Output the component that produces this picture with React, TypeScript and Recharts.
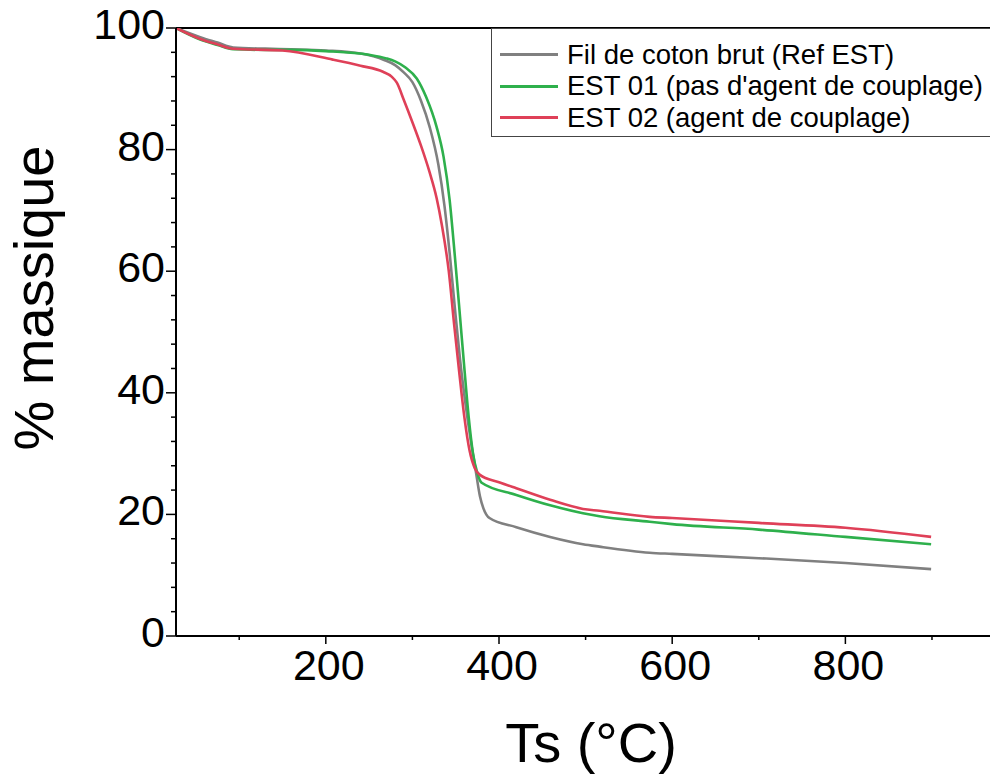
import React from "react";
import { LineChart, Line, XAxis, YAxis, ReferenceLine } from "recharts";

// ── Data (T in °C, mass in %) ─────────────────────────────────────────────────
const refTemp = [27, 55, 75, 93, 130, 160, 200, 240, 268, 280, 290, 300, 310, 320, 330, 337, 343, 349, 355, 361, 367, 373, 378, 382, 389, 420, 459, 497, 516, 574, 600, 700, 800, 899];
const refMass = [100, 98.5, 97.6, 96.8, 96.6, 96.5, 96.3, 95.8, 94.7, 93.9, 92.7, 91.1, 88.0, 83.7, 77.5, 70.8, 63, 54, 45.5, 38.5, 32.5, 27.3, 23, 21, 19.4, 17.9, 16.3, 15.1, 14.7, 13.7, 13.5, 12.8, 12.0, 11.0];

const est01Temp = [27, 55, 75, 93, 130, 160, 200, 250, 270, 280, 292, 305, 316, 328, 336, 343, 349, 355, 360, 365, 370, 375, 380, 420, 459, 497, 516, 574, 600, 700, 800, 899];
const est01Mass = [100, 98.1, 97.2, 96.5, 96.4, 96.4, 96.2, 95.6, 95.0, 94.5, 93.5, 91.7, 88.6, 83.7, 78.8, 71.7, 62.5, 52.5, 44, 36, 30, 26.8, 25.2, 23.2, 21.5, 20.2, 19.7, 18.8, 18.4, 17.5, 16.3, 15.1];

const est02Temp = [27, 55, 75, 93, 150, 208, 240, 266, 276, 282, 290, 300, 310, 320, 328, 334, 342, 348, 354, 360, 366, 372, 378, 400, 420, 459, 497, 516, 574, 600, 700, 800, 899];
const est02Mass = [100, 98.2, 97.3, 96.6, 96.3, 94.8, 93.8, 92.8, 92.0, 91.0, 88.2, 84.5, 80.6, 76.2, 72.0, 67.6, 60, 51.5, 43.5, 36, 30.5, 27.6, 26.5, 25.3, 24.3, 22.4, 20.9, 20.6, 19.6, 19.4, 18.6, 17.8, 16.3];

const xTicks = [100, 200, 300, 400, 500, 600, 700, 800, 900];
const yTicks = Array.from({ length: 26 }, (_, i) => i * 4);

const SERIES = [
  { name: "Fil de coton brut (Ref EST)", color: "#808080", temp: refTemp, mass: refMass },
  { name: "EST 01 (pas d'agent de couplage)", color: "#2eb04c", temp: est01Temp, mass: est01Mass },
  { name: "EST 02 (agent de couplage)", color: "#df4058", temp: est02Temp, mass: est02Mass },
];

const FONT = "'Liberation Sans', Arial, sans-serif";

// ── Custom ticks: long tick + label on majors, short tick on minors ───────────
function XTick({ x, y, payload }: any) {
  const major = payload.value % 200 === 0;
  return (
    <g>
      <line x1={x} y1={y} x2={x} y2={y + (major ? 8 : 4)} stroke="#000" strokeWidth={1.5} />
      {major && (
        <text x={x + 3} y={y + 44} textAnchor="middle" fontSize={43} fontFamily={FONT} fill="#000">
          {payload.value}
        </text>
      )}
    </g>
  );
}

function YTick({ x, y, payload }: any) {
  const major = payload.value % 20 === 0;
  return (
    <g>
      <line x1={x} y1={y} x2={x - (major ? 10 : 5)} y2={y} stroke="#000" strokeWidth={1.5} />
      {major && (
        <text x={x - 11} y={y + 11} textAnchor="end" fontSize={43} fontFamily={FONT} fill="#000">
          {payload.value}
        </text>
      )}
    </g>
  );
}

export default function App() {
  return (
    <div style={{ position: "absolute", left: 0, top: 0, width: 990, height: 778, overflow: "hidden", background: "#fff" }}>
      <LineChart width={990} height={778} margin={{ top: 28, right: 0, left: 116, bottom: 102 }}>
        <XAxis
          type="number"
          dataKey="t"
          domain={[27, 967]}
          ticks={xTicks}
          allowDataOverflow
          axisLine={{ stroke: "#000", strokeWidth: 2 }}
          tickLine={false}
          tickSize={0}
          tickMargin={0}
          height={40}
          tick={<XTick />}
          interval={0}
        />
        <YAxis
          type="number"
          dataKey="m"
          domain={[0, 100]}
          ticks={yTicks}
          allowDataOverflow
          axisLine={{ stroke: "#000", strokeWidth: 2 }}
          tickLine={false}
          tickSize={0}
          tickMargin={0}
          width={60}
          tick={<YTick />}
          interval={0}
        />
        <ReferenceLine y={100} stroke="#000" strokeWidth={2} />
        {SERIES.map((s) => (
          <Line
            key={s.name}
            name={s.name}
            data={s.temp.map((t, i) => ({ t, m: s.mass[i] }))}
            dataKey="m"
            type="monotone"
            stroke={s.color}
            strokeWidth={2.6}
            dot={false}
            isAnimationActive={false}
          />
        ))}
      </LineChart>

      {/* axis titles */}
      <svg width={990} height={778} style={{ position: "absolute", left: 0, top: 0, pointerEvents: "none" }}>
        <text x={591} y={762} textAnchor="middle" fontSize={56} fontFamily={FONT} fill="#000">
          Ts (°C)
        </text>
        <text x={53} y={298} textAnchor="middle" fontSize={56} fontFamily={FONT} fill="#000" transform="rotate(-90, 53, 298)">
          % massique
        </text>
      </svg>

      {/* legend box, runs off the right edge like the reference */}
      <div
        style={{
          position: "absolute",
          left: 491,
          top: 28,
          width: 540,
          height: 109,
          boxSizing: "border-box",
          border: "1px solid #444",
          background: "#fff",
          paddingTop: 10,
          fontFamily: FONT,
          fontSize: 27.5,
        }}
      >
        {SERIES.map((s) => (
          <div key={s.name} style={{ display: "flex", alignItems: "center", height: 31.5, whiteSpace: "nowrap" }}>
            <span style={{ display: "inline-block", width: 58, height: 3, background: s.color, marginLeft: 8, marginRight: 9, flexShrink: 0 }} />
            <span>{s.name}</span>
          </div>
        ))}
      </div>
    </div>
  );
}
